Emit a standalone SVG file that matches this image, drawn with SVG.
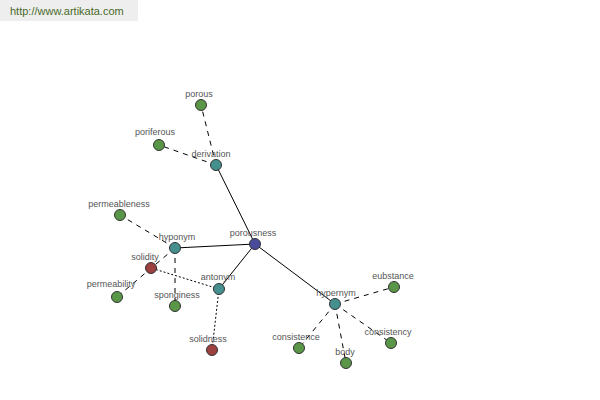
<svg xmlns="http://www.w3.org/2000/svg" width="600" height="400" viewBox="0 0 600 400">
<style>
.lbl{font-family:"Liberation Sans",Arial,sans-serif;font-size:9px;fill:#555;text-anchor:middle}
.n{stroke:#333;stroke-width:1}
.g{fill:#5a9648}
.t{fill:#45908f}
.b{fill:#4b4b9c}
.r{fill:#9c4040}
.s{stroke:#000;stroke-width:1;fill:none}
.d{stroke:#000;stroke-width:1;fill:none;stroke-dasharray:5,5}
.o{stroke:#000;stroke-width:1;fill:none;stroke-dasharray:2,2}
</style>
<rect width="600" height="400" fill="#fff"/>
<rect x="0" y="0" width="138" height="21" fill="#eeeeee"/>
<text x="10" y="15" font-family="'Liberation Sans',Arial,sans-serif" font-size="11" fill="#4a6a2a">http://www.artikata.com</text>
<g id="connectors">
<line class="s" x1="255" y1="244" x2="216" y2="165"/>
<line class="s" x1="255" y1="244" x2="175" y2="248"/>
<line class="s" x1="255" y1="244" x2="219" y2="289"/>
<line class="s" x1="255" y1="244" x2="335" y2="304"/>
<line class="d" x1="216" y1="165" x2="201" y2="105"/>
<line class="d" x1="216" y1="165" x2="159" y2="145"/>
<line class="d" x1="175" y1="248" x2="120" y2="215"/>
<line class="d" x1="175" y1="248" x2="117" y2="297"/>
<line class="d" x1="175" y1="248" x2="175" y2="306"/>
<line class="o" x1="219" y1="289" x2="151" y2="268"/>
<line class="o" x1="219" y1="289" x2="212" y2="350"/>
<line class="d" x1="335" y1="304" x2="394" y2="287"/>
<line class="d" x1="335" y1="304" x2="299" y2="348"/>
<line class="d" x1="335" y1="304" x2="346" y2="363"/>
<line class="d" x1="335" y1="304" x2="391" y2="343"/>
</g>
<g id="porous"><circle class="n g" cx="201" cy="105" r="5.5"/><text class="lbl" x="199" y="97">porous</text></g>
<g id="poriferous"><circle class="n g" cx="159" cy="145" r="5.5"/><text class="lbl" x="155" y="135">poriferous</text></g>
<g id="derivation"><circle class="n t" cx="216" cy="165" r="5.5"/><text class="lbl" x="211" y="157">derivation</text></g>
<g id="permeableness"><circle class="n g" cx="120" cy="215" r="5.5"/><text class="lbl" x="119" y="207">permeableness</text></g>
<g id="hyponym"><circle class="n t" cx="175" cy="248" r="5.5"/><text class="lbl" x="177" y="240">hyponym</text></g>
<g id="porousness"><circle class="n b" cx="255" cy="244" r="5.5"/><text class="lbl" x="253" y="236">porousness</text></g>
<g id="solidity"><circle class="n r" cx="151" cy="268" r="5.5"/><text class="lbl" x="145" y="260">solidity</text></g>
<g id="permeability"><circle class="n g" cx="117" cy="297" r="5.5"/><text class="lbl" x="111" y="287">permeability</text></g>
<g id="sponginess"><circle class="n g" cx="175" cy="306" r="5.5"/><text class="lbl" x="177" y="298">sponginess</text></g>
<g id="antonym"><circle class="n t" cx="219" cy="289" r="5.5"/><text class="lbl" x="218" y="280">antonym</text></g>
<g id="solidness"><circle class="n r" cx="212" cy="350" r="5.5"/><text class="lbl" x="208" y="342">solidness</text></g>
<g id="hypernym"><circle class="n t" cx="335" cy="304" r="5.5"/><text class="lbl" x="336" y="296">hypernym</text></g>
<g id="eubstance"><circle class="n g" cx="394" cy="287" r="5.5"/><text class="lbl" x="393" y="279">eubstance</text></g>
<g id="consistence"><circle class="n g" cx="299" cy="348" r="5.5"/><text class="lbl" x="296" y="340">consistence</text></g>
<g id="body"><circle class="n g" cx="346" cy="363" r="5.5"/><text class="lbl" x="345" y="355">body</text></g>
<g id="consistency"><circle class="n g" cx="391" cy="343" r="5.5"/><text class="lbl" x="388" y="335">consistency</text></g>
</svg>
